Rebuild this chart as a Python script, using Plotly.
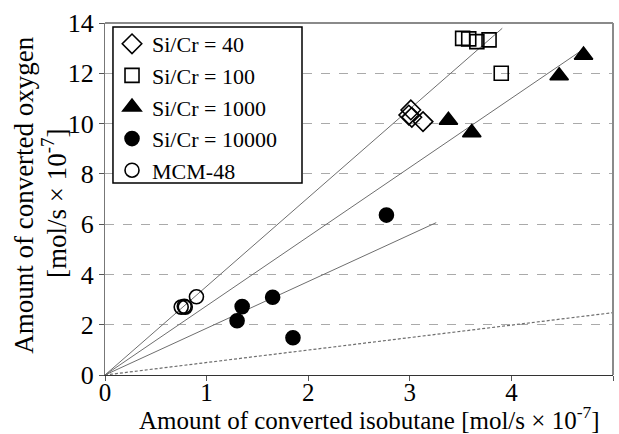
import plotly.graph_objects as go

# Measured points for each catalyst
si40_x = [3.01, 2.99, 3.02, 3.13]
si40_y = [10.54, 10.34, 10.25, 10.08]

si100_x = [3.52, 3.58, 3.66, 3.78, 3.90]
si100_y = [13.39, 13.37, 13.26, 13.33, 12.00]

si1000_x = [3.38, 3.61, 4.47, 4.71]
si1000_y = [10.13, 9.64, 11.90, 12.72]

si10000_x = [1.30, 1.35, 1.65, 1.85, 2.77]
si10000_y = [2.16, 2.72, 3.09, 1.48, 6.36]

mcm_x = [0.75, 0.78, 0.79, 0.90]
mcm_y = [2.70, 2.73, 2.70, 3.11]

# Proportional reference lines through the origin: end point of each
fit_end_x = [3.91, 4.71, 3.26]
fit_end_y = [13.79, 12.96, 6.06]
ref_end_x = [5.0]
ref_end_y = [2.48]

x_ticks = [0, 1, 2, 3, 4, 5]
y_ticks = [0, 2, 4, 6, 8, 10, 12, 14]

x_title = "Amount of converted isobutane [mol/s × 10<sup>-7</sup>]"
y_title_lines = ["Amount of converted oxygen", "[mol/s × 10<sup>-7</sup>]"]

FONT = "Liberation Serif"

fig = go.Figure()

for ex, ey in zip(fit_end_x, fit_end_y):
    fig.add_trace(go.Scatter(x=[0, ex], y=[0, ey], mode="lines",
                             line=dict(color="#6e6e6e", width=1),
                             showlegend=False, hoverinfo="skip"))
for ex, ey in zip(ref_end_x, ref_end_y):
    fig.add_trace(go.Scatter(x=[0, ex], y=[0, ey], mode="lines",
                             line=dict(color="#6e6e6e", width=1.2, dash="3px,2px"),
                             showlegend=False, hoverinfo="skip"))

series = [
    ("Si/Cr = 40", si40_x, si40_y, "diamond-open", 15, "black"),
    ("Si/Cr = 100", si100_x, si100_y, "square-open", 14, "black"),
    ("Si/Cr = 1000", si1000_x, si1000_y, "triangle-up", 16, "black"),
    ("Si/Cr = 10000", si10000_x, si10000_y, "circle", 14, "black"),
    ("MCM-48", mcm_x, mcm_y, "circle-open", 14, "black"),
]
for name, xs, ys, sym, size, col in series:
    fig.add_trace(go.Scatter(
        x=xs, y=ys, mode="markers", name=name,
        marker=dict(symbol=sym, size=size, color=col,
                    line=dict(color="black", width=1.6)),
    ))

fig.update_layout(
    width=619, height=434,
    margin=dict(l=105, r=6, t=23, b=59, autoexpand=False),
    paper_bgcolor="white", plot_bgcolor="white",
    font=dict(family=FONT, size=24, color="black"),
    legend=dict(
        x=0.0138, y=1.0, xanchor="left", yanchor="top",
        bgcolor="rgba(0,0,0,0)", borderwidth=0,
        font=dict(family=FONT, size=22), tracegroupgap=0,
        itemwidth=30,
    ),
    xaxis=dict(
        range=[0, 5], tickvals=x_ticks, ticks="outside", ticklen=5,
        tickcolor="#555", showgrid=False, zeroline=False,
        showline=True, linecolor="#333", linewidth=1.2,
        tickfont=dict(family=FONT, size=25), ticklabelstandoff=-10,
    ),
    yaxis=dict(
        range=[0, 14], tickvals=y_ticks, ticks="outside", ticklen=5,
        tickcolor="#555", showgrid=True, gridcolor="#aaaaaa", griddash="dash",
        gridwidth=1, zeroline=False,
        showline=True, linecolor="#777", linewidth=1.2,
        tickfont=dict(family=FONT, size=26),
    ),
)

# Legend frame with a white fill over the grid
fig.add_shape(type="rect", xref="paper", yref="paper",
              x0=0.0157, x1=0.3878, y0=0.5455, y1=0.9886,
              line=dict(color="black", width=1.5), fillcolor="white",
              layer="above")

# Axis titles
fig.add_annotation(text=x_title, xref="paper", yref="paper",
                   x=0.521, y=-0.122, xanchor="center", yanchor="middle",
                   showarrow=False, font=dict(family=FONT, size=25))
for text, px, py in zip(y_title_lines, [-0.160, -0.099], [0.511, 0.488]):
    fig.add_annotation(text=text, xref="paper", yref="paper",
                       x=px, y=py, xanchor="center", yanchor="middle",
                       textangle=-90, showarrow=False,
                       font=dict(family=FONT, size=27))

# Grey frame on the top and right of the plotting area
fig.add_shape(type="line", xref="paper", yref="paper", x0=0, x1=1, y0=1, y1=1,
              line=dict(color="#8a8a8a", width=2))
fig.add_shape(type="line", xref="paper", yref="paper", x0=1, x1=1, y0=0, y1=1,
              line=dict(color="#8a8a8a", width=2))

fig.write_html("out.html")
